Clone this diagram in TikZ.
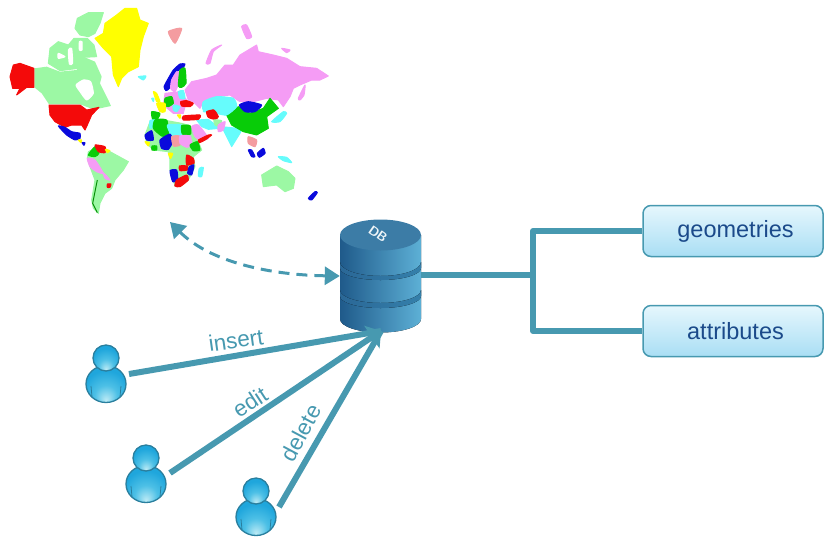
\documentclass[tikz,border=0pt]{standalone}
\usepackage{fontspec}
\setmainfont{Liberation Sans}
\usetikzlibrary{arrows.meta}
\definecolor{teal1}{HTML}{4799B0}
\definecolor{lgreen}{HTML}{9CF8A4}
\definecolor{lpink}{HTML}{F59CF5}
\definecolor{lcyan}{HTML}{66FCFC}
\definecolor{salmon1}{HTML}{F49CA0}
\definecolor{mblue}{HTML}{0A0ADC}
\definecolor{mgreen}{HTML}{08CC08}
\definecolor{mred}{HTML}{F40A0A}
\definecolor{myellow}{HTML}{FFFF00}
\definecolor{txtblue}{HTML}{1B4A8A}
\definecolor{boxtop}{HTML}{E6F7FD}
\definecolor{boxbot}{HTML}{A9DEF4}
\definecolor{cylL}{HTML}{1F5A8A}
\definecolor{cylM}{HTML}{34779F}
\definecolor{cylR}{HTML}{5DB0D6}
\definecolor{cylT}{HTML}{3C7CA6}
\definecolor{bandL}{HTML}{2A6796}
\definecolor{bandR}{HTML}{3580AB}
\definecolor{persEdge}{HTML}{2A7F9E}
\definecolor{persOut}{HTML}{1FA6DC}
\definecolor{persMid}{HTML}{4DC0E6}
\definecolor{persIn}{HTML}{BDEBF5}
\pgfdeclareradialshading{bodyshade}{\pgfpoint{0bp}{-22bp}}{%
 color(0bp)=(persIn); color(14bp)=(persMid); color(28bp)=(persOut); color(50bp)=(persOut)}
\newcommand{\rg}[2]{\filldraw[#1,line width=1pt,line join=round] plot[smooth cycle,tension=0.35] coordinates {#2};}
\newcommand{\pg}[2]{\filldraw[#1,line width=1pt,line join=round] #2 -- cycle;}
\tikzset{
 conn/.style={draw=teal1,line width=6pt},
 boxnode/.style={draw=teal1,line width=1.5pt,rounded corners=8pt,top color=boxtop,bottom color=boxbot,
   minimum width=180pt,minimum height=51pt,text=txtblue,font=\fontsize{23.5}{27}\selectfont,execute at begin node=\hspace*{5pt}},
 lab/.style={text=teal1,font=\fontsize{22.5}{27}\selectfont,inner sep=0pt},
 anchorbox/.style={inner sep=0pt,minimum width=#1,minimum height=#1},
 person/.pic={
   \fill[draw=persEdge,line width=1.3pt,shading=bodyshade] (0,26) ellipse [x radius=20pt,y radius=18.5pt];
   \draw[persEdge,line width=.8pt] (-15,28)--(-14,39) (15,28)--(14,39);
   \fill[draw=persEdge,line width=1.3pt,shading=bodyshade] (0,0) circle [radius=13pt];
 }
}
\begin{document}
\begin{tikzpicture}[x=1pt,y=-1pt]
\useasboundingbox (0,0) rectangle (824,539);
% world map
\begin{scope}[x=0.33333pt,y=-0.33333pt]
% Canadian arctic
\pg{lgreen}{(232,55)--(265,38)--(310,38)--(300,70)--(285,100)--(265,110)--(240,105)--(225,85)}
\pg{lgreen}{(145,190)--(150,145)--(175,125)--(205,135)--(222,115)--(262,115)--(282,135)--(290,170)--(250,172)--(235,205)--(180,212)}
\rg{white}{(205,150)(215,145)(218,190)(208,192)}
\rg{white}{(238,125)(246,125)(246,150)(238,150)}
\rg{white}{(175,160)(195,170)(175,175)}
\fill[lgreen] (103,205)--(140,200)--(180,215)--(230,210)--(250,170)--(285,185)--(305,230)--(300,250)--(325,300)--(333,318)--(300,325)--(280,328)--(240,313)--(147,313)--(125,280)--(103,262)--cycle;
\rg{white}{(228,255)(250,240)(272,245)(280,280)(260,300)(240,275)}
\pg{myellow}{(285,115)--(310,100)--(315,70)--(350,45)--(375,25)--(410,25)--(420,60)--(445,70)--(430,110)--(420,150)--(415,200)--(385,215)--(365,235)--(355,260)--(340,225)--(335,170)--(310,145)}
\pg{mred}{(30,230)--(40,195)--(60,190)--(102,205)--(102,262)--(80,262)--(50,285)--(60,265)--(38,265)}
\pg{mred}{(147,315)--(240,315)--(260,330)--(297,322)--(275,345)--(262,375)--(255,390)--(245,375)--(215,375)--(195,382)--(165,365)--(150,345)}
\rg{mblue}{(175,378)(195,382)(215,395)(240,400)(240,415)(225,420)(200,405)}
\rg{myellow}{(235,420)(245,420)(243,428)}
\rg{mblue}{(246,428)(255,428)(252,436)}
% South America
\pg{lgreen}{(285,445)--(330,455)--(385,485)--(370,510)--(345,540)--(335,565)--(315,580)--(300,610)--(295,640)--(280,625)--(275,600)--(285,540)--(270,500)--(262,475)--(265,455)}
\rg{mgreen}{(265,465)(285,440)(297,460)(285,470)}
\rg{mred}{(285,435)(315,440)(315,458)(295,455)}
\rg{lpink}{(262,475)(285,480)(310,520)(290,515)(270,500)}
\rg{lpink}{(310,518)(330,540)(315,535)}
\rg{mred}{(322,552)(333,552)(330,562)(322,562)}
\rg{myellow}{(316,448)(330,452)(322,458)}
\draw[mgreen!70!black,line width=1pt] (292,540)--(278,610)--(292,638);
% Russia and Asia
\pg{lpink}{(555,270)--(575,245)--(620,235)--(650,225)--(675,195)--(700,195)--(720,165)--(770,135)--(775,155)--(820,165)--(860,175)--(900,200)--(950,205)--(985,228)--(960,240)--(935,240)--(900,255)--(880,265)--(870,290)--(850,320)--(835,300)--(800,295)--(760,305)--(720,305)--(690,285)--(650,290)--(610,305)--(600,325)--(580,305)--(565,300)}
\rg{lpink}{(618,190)(635,150)(665,135)(640,155)(630,190)}
\rg{lpink}{(725,80)(740,75)(755,110)(740,115)}
\rg{lpink}{(845,145)(870,150)(860,158)}
\rg{lpink}{(895,295)(915,255)(912,285)(900,300)}
\pg{lcyan}{(610,310)--(650,290)--(700,295)--(710,325)--(680,345)--(650,340)--(610,335)}
\pg{lcyan}{(665,380)--(715,385)--(730,380)--(720,400)--(695,440)--(680,410)}
\pg{mgreen}{(680,345)--(715,320)--(750,340)--(790,325)--(810,295)--(835,325)--(800,350)--(805,385)--(770,405)--(730,395)--(695,375)}
\rg{mblue}{(718,315)(745,305)(785,315)(765,335)(735,335)}
\rg{lcyan}{(815,365)(850,335)(860,340)(840,365)}
\rg{salmon1}{(745,410)(770,420)(765,440)(745,430)}
\rg{mblue}{(745,450)(755,450)(765,470)(755,470)}
\rg{mblue}{(772,460)(790,445)(795,460)(778,472)}
\rg{lcyan}{(835,470)(860,472)(875,488)(850,482)}
\pg{lgreen}{(785,525)--(810,510)--(830,498)--(865,515)--(885,535)--(880,565)--(855,575)--(830,555)--(790,560)}
\rg{mblue}{(925,595)(945,575)(952,578)(935,600)}
\rg{lcyan}{(415,230)(438,228)(430,240)}
\rg{salmon1}{(505,95)(545,85)(525,130)}
% Europe, Middle East, Africa
\begin{scope}[shift={(420,180)}]
\pg{lgreen}{(15,225)--(30,185)--(60,178)--(125,190)--(150,197)--(175,245)--(185,270)--(160,290)--(165,320)--(145,360)--(120,380)--(105,378)--(90,330)--(90,300)--(85,275)--(40,270)--(20,250)}
\pg{lcyan}{(170,180)--(205,178)--(240,205)--(205,208)--(185,200)}
\pg{lpink}{(75,100)--(120,95)--(140,120)--(130,160)--(100,160)--(70,135)}
\rg{mblue}{(72,80)(85,55)(100,30)(120,12)(135,12)(130,22)(110,35)(95,60)(88,85)(78,92)}
\rg{lpink}{(95,60)(110,35)(120,40)(118,65)(105,95)(92,85)}
\rg{mgreen}{(120,30)(135,25)(138,70)(125,82)(115,78)}
\rg{lcyan}{(115,95)(130,92)(135,115)(120,115)}
\rg{mred}{(122,125)(140,122)(160,130)(150,140)(125,138)}
\rg{mgreen}{(75,115)(95,110)(100,130)(85,140)(75,135)}
\rg{myellow}{(40,95)(50,100)(60,125)(50,125)}
\rg{myellow}{(50,130)(75,130)(75,155)(60,155)}
\rg{lcyan}{(35,115)(42,115)(40,125)}
\rg{mgreen}{(35,155)(60,160)(52,178)(38,178)}
\rg{lcyan}{(100,135)(120,140)(110,155)(100,150)}
\rg{myellow}{(112,165)(122,165)(120,175)}
\rg{mred}{(130,168)(180,165)(175,178)(130,180)}
\rg{lcyan}{(190,125)(230,110)(280,115)(290,140)(260,165)(230,160)(190,150)}
\rg{mred}{(200,155)(222,150)(235,170)(225,178)(205,172)}
\rg{lgreen}{(222,180)(245,182)(240,198)(226,196)}
\rg{lpink}{(155,200)(175,195)(205,235)(180,240)(165,230)}
\rg{mred}{(175,240)(205,225)(215,225)(195,240)(178,248)}
\rg{lpink}{(235,195)(255,185)(250,210)(235,215)}
\rg{lcyan}{(30,182)(45,180)(42,200)(30,205)}
\rg{mgreen}{(45,180)(80,180)(85,225)(65,228)(40,205)}
\rg{lcyan}{(82,195)(125,195)(125,225)(95,225)}
\rg{mgreen}{(125,197)(150,197)(152,222)(127,222)}
\rg{mblue}{(15,225)(35,212)(40,240)(20,240)}
\rg{mblue}{(60,240)(90,222)(98,245)(85,268)(65,265)}
\rg{salmon1}{(95,230)(118,228)(120,255)(100,258)}
\rg{lpink}{(120,228)(150,228)(155,255)(140,262)(120,250)}
\rg{mgreen}{(150,255)(172,245)(180,270)(160,272)}
\rg{myellow}{(15,245)(28,248)(25,258)}
\rg{mgreen}{(36,258)(50,258)(50,270)(36,270)}
\rg{myellow}{(85,280)(98,280)(92,295)}
\rg{mred}{(140,285)(160,295)(162,310)(140,315)}
\rg{mred}{(118,318)(142,318)(142,330)(120,332)}
\rg{mblue}{(148,320)(162,315)(155,345)(143,340)}
\rg{mblue}{(90,332)(110,330)(113,360)(98,365)}
\rg{mred}{(110,360)(140,345)(145,360)(120,380)(105,378)}
\rg{lcyan}{(178,325)(190,322)(185,350)(175,348)}
\end{scope}
\end{scope}
\coordinate (mapfoot) at (170,222);
% database
\node[anchorbox=0pt,minimum width=81pt,minimum height=112pt] (db) at (380.5,276) {};
\fill[left color=cylL,middle color=cylM,right color=cylR]
 (340,235)--(340,319) arc[start angle=180,end angle=360,x radius=40.5pt,y radius=13.5pt]--(421,235)--cycle;
\fill[left color=bandL,right color=bandR]
 (340,262) arc[start angle=180,end angle=360,x radius=40.5pt,y radius=14pt]--(421,268) arc[start angle=360,end angle=180,x radius=40.5pt,y radius=12pt]--cycle;
\fill[left color=bandL,right color=bandR]
 (340,290) arc[start angle=180,end angle=360,x radius=40.5pt,y radius=13pt]--(421,296) arc[start angle=360,end angle=180,x radius=40.5pt,y radius=12pt]--cycle;
\fill[cylT] (380.5,235) ellipse [x radius=40.5pt,y radius=15.5pt];
\node[text=white!92!cylT,font=\sffamily\bfseries\fontsize{13}{14}\selectfont,rotate=-35,inner sep=0pt] (dbtext) at (378,234) {DB};
% dashed connector
\draw[draw=teal1,line width=3pt,dash pattern=on 11pt off 7pt,{Triangle[length=15pt,width=18pt]}-{Triangle[length=15pt,width=18pt]}]
 (mapfoot) .. controls (210,262) and (270,275) .. (db.west);
% users
\pic at (106,358) {person};
\pic at (146,458) {person};
\pic at (256,491) {person};
\node[anchorbox=46pt] (u1) at (106,373) {};
\node[anchorbox=46pt] (u2) at (146,473) {};
\node[anchorbox=46pt] (u3) at (256,506) {};
\coordinate (hub) at (381,331);
\coordinate (u1e) at (129,374);
\coordinate (u2e) at (170,473);
\coordinate (u3e) at (279,507);
\draw[conn] (u1e) -- (hub);
\draw[conn] (u3e) -- (hub);
\draw[conn,-{Triangle[length=11pt,width=27pt]}] (u2e) -- (hub);
\node[lab,rotate=8] (linsert) at (236,340) {insert};
\node[lab,rotate=33] (ledit) at (250,402) {edit};
\node[lab,rotate=62] (ldelete) at (301,433) {delete};
% boxes
\node[boxnode] (geo) at (733,231) {geometries};
\node[boxnode] (attr) at (733,331) {attributes};
\coordinate (junction) at (533,275);
\draw[conn] (db.east |- junction) -- (junction);
\draw[conn,line join=round] (geo.west) -- (geo.west -| junction) -- (attr.west -| junction) -- (attr.west);
\end{tikzpicture}
\end{document}
